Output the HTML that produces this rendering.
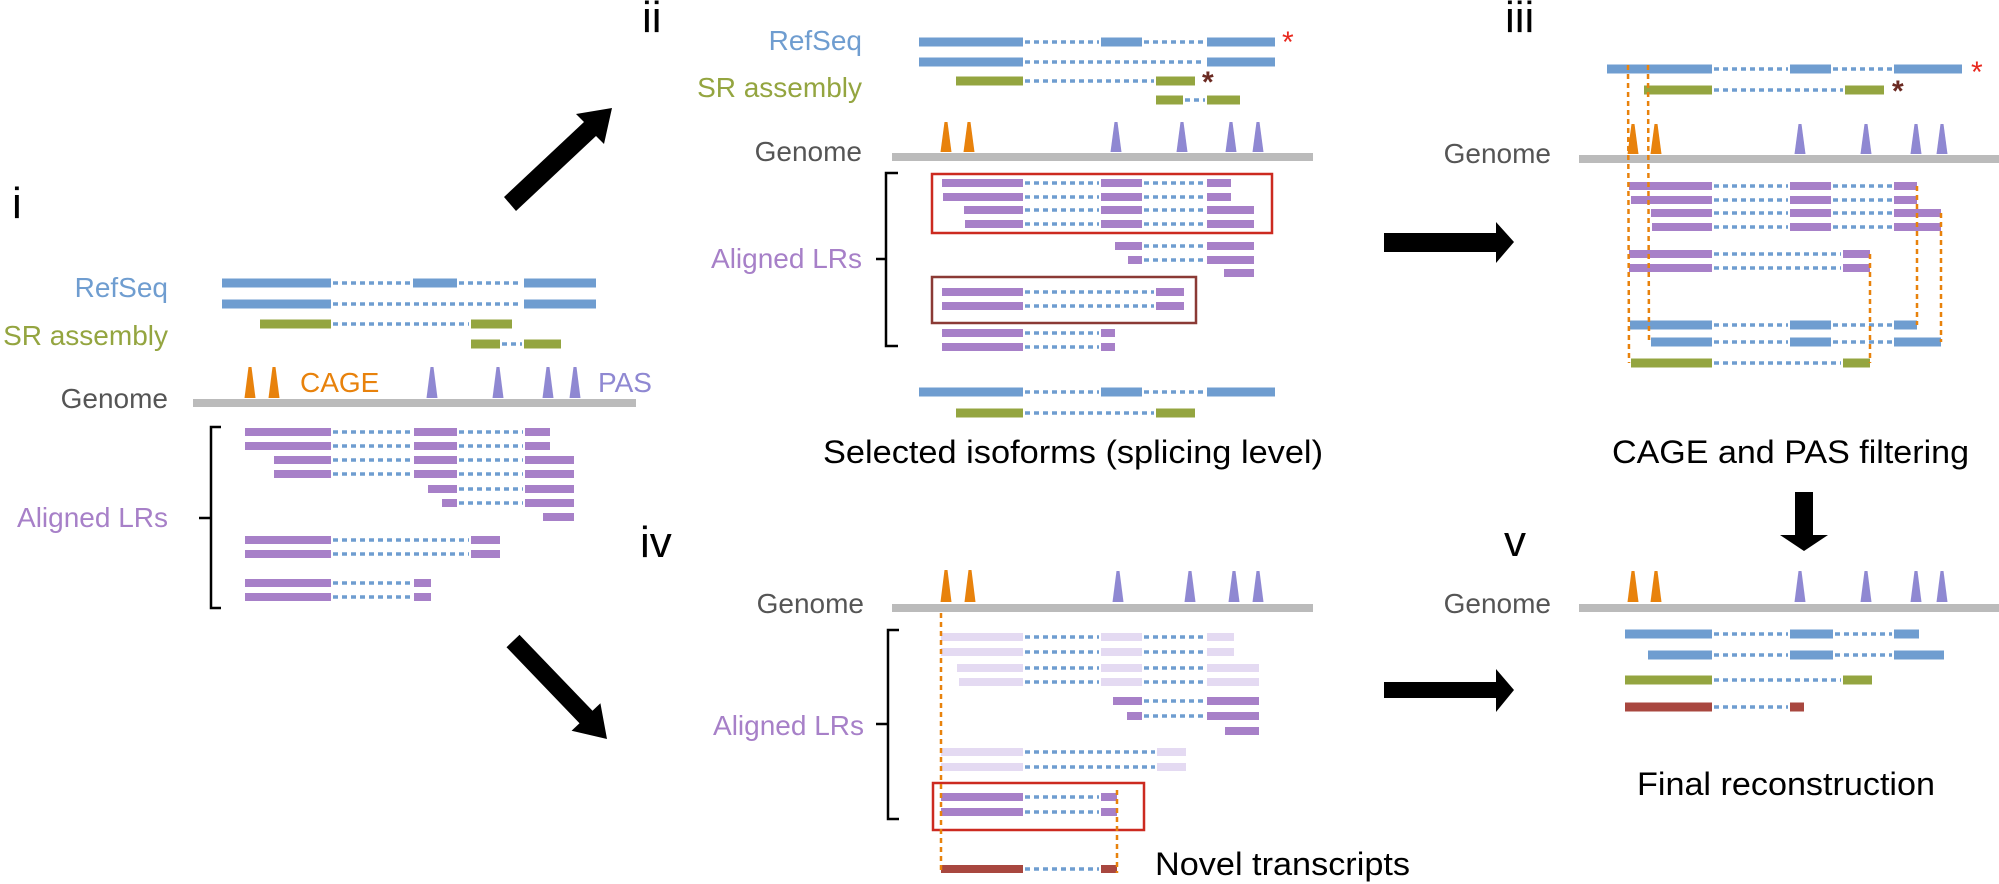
<!DOCTYPE html>
<html><head><meta charset="utf-8"><style>
html,body{margin:0;padding:0;background:#fff;}
svg{display:block;}
text{font-family:"Liberation Sans",Arial,sans-serif;}
.b{fill:#6f9dd0}.g{fill:#94a540}.p{fill:#a780c8}.l{fill:#e4daf2}.r{fill:#a8473f}
.d{stroke:#6f9dd0;stroke-width:3.5;stroke-dasharray:5 4;fill:none}
.o{stroke:#e8820c;stroke-width:2.5;stroke-dasharray:5 4;fill:none}
.ca{fill:#e8820c}.pa{fill:#8f88d2}
.gn{fill:#bbbbbb}
.lab{font-size:28px}
</style></head><body>
<svg width="1999" height="884" viewBox="0 0 1999 884" xmlns="http://www.w3.org/2000/svg">
<!-- Panel labels -->
<text x="12" y="218" font-size="44">i</text>
<text x="642" y="32" font-size="44">ii</text>
<text x="1505" y="32" font-size="44">iii</text>
<text x="640" y="557" font-size="44">iv</text>
<text x="1504" y="556" font-size="44">v</text>

<!-- ===== Panel i ===== -->
<text class="lab" x="168" y="297" text-anchor="end" fill="#6f9dd0">RefSeq</text>
<text class="lab" x="168" y="345" text-anchor="end" fill="#94a540">SR assembly</text>
<text class="lab" x="168" y="408" text-anchor="end" fill="#555">Genome</text>
<text class="lab" x="168" y="527" text-anchor="end" fill="#a780c8">Aligned LRs</text>
<text class="lab" x="300" y="392" fill="#e8820c">CAGE</text>
<text class="lab" x="598" y="392" fill="#8f88d2">PAS</text>
<g>
<rect class="b" x="222" y="278.5" width="109" height="9"/><line class="d" x1="333" x2="411" y1="283" y2="283"/><rect class="b" x="413" y="278.5" width="44" height="9"/><line class="d" x1="459" x2="522" y1="283" y2="283"/><rect class="b" x="524" y="278.5" width="72" height="9"/>
<rect class="b" x="222" y="299.5" width="109" height="9"/><line class="d" x1="333" x2="522" y1="304" y2="304"/><rect class="b" x="524" y="299.5" width="72" height="9"/>
<rect class="g" x="260" y="319.5" width="71" height="9"/><line class="d" x1="333" x2="469" y1="324" y2="324"/><rect class="g" x="471" y="319.5" width="41" height="9"/>
<rect class="g" x="471" y="339.5" width="29" height="9"/><line class="d" x1="502" x2="522" y1="344" y2="344"/><rect class="g" x="524" y="339.5" width="37" height="9"/>
<polygon class="ca" points="244.5,398 248.5,367 251.5,367 255.5,398"/>
<polygon class="ca" points="268.5,398 272.5,367 275.5,367 279.5,398"/>
<polygon class="pa" points="426.5,398 430.5,367 433.5,367 437.5,398"/>
<polygon class="pa" points="492.5,398 496.5,367 499.5,367 503.5,398"/>
<polygon class="pa" points="542.5,398 546.5,367 549.5,367 553.5,398"/>
<polygon class="pa" points="569.5,398 573.5,367 576.5,367 580.5,398"/>
<rect class="gn" x="193" y="399" width="443" height="8"/>
<path d="M221 427 H211 V608 H221 M211 518 H199" stroke="#000" stroke-width="2.5" fill="none"/>
<rect class="p" x="245" y="428" width="86" height="8"/><line class="d" x1="333" x2="412" y1="432" y2="432"/><rect class="p" x="414" y="428" width="43" height="8"/><line class="d" x1="459" x2="523" y1="432" y2="432"/><rect class="p" x="525" y="428" width="25" height="8"/>
<rect class="p" x="245" y="442" width="86" height="8"/><line class="d" x1="333" x2="412" y1="446" y2="446"/><rect class="p" x="414" y="442" width="43" height="8"/><line class="d" x1="459" x2="523" y1="446" y2="446"/><rect class="p" x="525" y="442" width="25" height="8"/>
<rect class="p" x="274" y="456" width="57" height="8"/><line class="d" x1="333" x2="412" y1="460" y2="460"/><rect class="p" x="414" y="456" width="43" height="8"/><line class="d" x1="459" x2="523" y1="460" y2="460"/><rect class="p" x="525" y="456" width="49" height="8"/>
<rect class="p" x="274" y="470" width="57" height="8"/><line class="d" x1="333" x2="412" y1="474" y2="474"/><rect class="p" x="414" y="470" width="43" height="8"/><line class="d" x1="459" x2="523" y1="474" y2="474"/><rect class="p" x="525" y="470" width="49" height="8"/>
<rect class="p" x="428" y="485" width="29" height="8"/><line class="d" x1="459" x2="523" y1="489" y2="489"/><rect class="p" x="525" y="485" width="49" height="8"/>
<rect class="p" x="442" y="499" width="15" height="8"/><line class="d" x1="459" x2="523" y1="503" y2="503"/><rect class="p" x="525" y="499" width="49" height="8"/>
<rect class="p" x="543" y="513" width="31" height="8"/>
<rect class="p" x="245" y="536" width="86" height="8"/><line class="d" x1="333" x2="469" y1="540" y2="540"/><rect class="p" x="471" y="536" width="29" height="8"/>
<rect class="p" x="245" y="550" width="86" height="8"/><line class="d" x1="333" x2="469" y1="554" y2="554"/><rect class="p" x="471" y="550" width="29" height="8"/>
<rect class="p" x="245" y="579" width="86" height="8"/><line class="d" x1="333" x2="412" y1="583" y2="583"/><rect class="p" x="414" y="579" width="17" height="8"/>
<rect class="p" x="245" y="593" width="86" height="8"/><line class="d" x1="333" x2="412" y1="597" y2="597"/><rect class="p" x="414" y="593" width="17" height="8"/>
</g>

<!-- arrows -->
<polygon fill="#000" points="504,197 584,122 576,114 612,108 604,144 596,136 516,211"/>
<polygon fill="#000" points="519.5,634.8 592.5,710.8 600.4,703.2 607,739 571.6,730.8 579.5,723.2 506.5,647.2"/>
<polygon fill="#000" points="1384,233 1496,233 1496,222 1514,242 1496,263 1496,252 1384,252"/>
<polygon fill="#000" points="1384,682 1496,682 1496,669 1514,690 1496,712 1496,698 1384,698"/>
<polygon fill="#000" points="1795,492 1813,492 1813,535 1828,535 1804,551 1780,535 1795,535"/>

<!-- ===== Panel ii ===== -->
<text class="lab" x="862" y="50" text-anchor="end" fill="#6f9dd0">RefSeq</text>
<text class="lab" x="862" y="97" text-anchor="end" fill="#94a540">SR assembly</text>
<text class="lab" x="862" y="161" text-anchor="end" fill="#555">Genome</text>
<text class="lab" x="862" y="268" text-anchor="end" fill="#a780c8">Aligned LRs</text>
<text x="1282" y="52" font-size="30" fill="#e8281e">*</text>
<text x="1202" y="92" font-size="30" fill="#6b2a22" font-weight="bold">*</text>
<rect class="b" x="919" y="37.5" width="104" height="9"/><line class="d" x1="1025" x2="1099" y1="42" y2="42"/><rect class="b" x="1101" y="37.5" width="41" height="9"/><line class="d" x1="1144" x2="1205" y1="42" y2="42"/><rect class="b" x="1207" y="37.5" width="68" height="9"/>
<rect class="b" x="919" y="57.5" width="104" height="9"/><line class="d" x1="1025" x2="1205" y1="62" y2="62"/><rect class="b" x="1207" y="57.5" width="68" height="9"/>
<rect class="g" x="956" y="76.5" width="67" height="9"/><line class="d" x1="1025" x2="1154" y1="81" y2="81"/><rect class="g" x="1156" y="76.5" width="39" height="9"/>
<rect class="g" x="1156" y="95.5" width="27" height="9"/><line class="d" x1="1185" x2="1205" y1="100" y2="100"/><rect class="g" x="1207" y="95.5" width="33" height="9"/>
<polygon class="ca" points="940.5,152 944.5,122 947.5,122 951.5,152"/>
<polygon class="ca" points="963.5,152 967.5,122 970.5,122 974.5,152"/>
<polygon class="pa" points="1110.5,152 1114.5,122 1117.5,122 1121.5,152"/>
<polygon class="pa" points="1176.5,152 1180.5,122 1183.5,122 1187.5,152"/>
<polygon class="pa" points="1225.5,152 1229.5,122 1232.5,122 1236.5,152"/>
<polygon class="pa" points="1252.5,152 1256.5,122 1259.5,122 1263.5,152"/>
<rect class="gn" x="892" y="153" width="421" height="8"/>
<path d="M898 173 H886 V346 H898 M886 259 H876" stroke="#000" stroke-width="2.5" fill="none"/>
<rect x="932" y="174" width="340" height="59" fill="none" stroke="#cc2a20" stroke-width="2.5"/>
<rect x="932" y="277" width="264" height="46" fill="none" stroke="#8b3a35" stroke-width="2.5"/>
<rect class="p" x="942" y="179" width="81" height="8"/><line class="d" x1="1025" x2="1099" y1="183" y2="183"/><rect class="p" x="1101" y="179" width="41" height="8"/><line class="d" x1="1144" x2="1205" y1="183" y2="183"/><rect class="p" x="1207" y="179" width="24" height="8"/>
<rect class="p" x="943" y="193" width="80" height="8"/><line class="d" x1="1025" x2="1099" y1="197" y2="197"/><rect class="p" x="1101" y="193" width="41" height="8"/><line class="d" x1="1144" x2="1205" y1="197" y2="197"/><rect class="p" x="1207" y="193" width="24" height="8"/>
<rect class="p" x="964" y="206" width="59" height="8"/><line class="d" x1="1025" x2="1099" y1="210" y2="210"/><rect class="p" x="1101" y="206" width="41" height="8"/><line class="d" x1="1144" x2="1205" y1="210" y2="210"/><rect class="p" x="1207" y="206" width="47" height="8"/>
<rect class="p" x="965" y="220" width="58" height="8"/><line class="d" x1="1025" x2="1099" y1="224" y2="224"/><rect class="p" x="1101" y="220" width="41" height="8"/><line class="d" x1="1144" x2="1205" y1="224" y2="224"/><rect class="p" x="1207" y="220" width="47" height="8"/>
<rect class="p" x="1115" y="242" width="27" height="8"/><line class="d" x1="1144" x2="1205" y1="246" y2="246"/><rect class="p" x="1207" y="242" width="47" height="8"/>
<rect class="p" x="1128" y="256" width="14" height="8"/><line class="d" x1="1144" x2="1205" y1="260" y2="260"/><rect class="p" x="1207" y="256" width="47" height="8"/>
<rect class="p" x="1224" y="269" width="30" height="8"/>
<rect class="p" x="942" y="288" width="81" height="8"/><line class="d" x1="1025" x2="1154" y1="292" y2="292"/><rect class="p" x="1156" y="288" width="28" height="8"/>
<rect class="p" x="942" y="302" width="81" height="8"/><line class="d" x1="1025" x2="1154" y1="306" y2="306"/><rect class="p" x="1156" y="302" width="28" height="8"/>
<rect class="p" x="942" y="329" width="81" height="8"/><line class="d" x1="1025" x2="1099" y1="333" y2="333"/><rect class="p" x="1101" y="329" width="14" height="8"/>
<rect class="p" x="942" y="343" width="81" height="8"/><line class="d" x1="1025" x2="1099" y1="347" y2="347"/><rect class="p" x="1101" y="343" width="14" height="8"/>
<rect class="b" x="919" y="387.5" width="104" height="9"/><line class="d" x1="1025" x2="1099" y1="392" y2="392"/><rect class="b" x="1101" y="387.5" width="41" height="9"/><line class="d" x1="1144" x2="1205" y1="392" y2="392"/><rect class="b" x="1207" y="387.5" width="68" height="9"/>
<rect class="g" x="956" y="408.5" width="67" height="9"/><line class="d" x1="1025" x2="1154" y1="413" y2="413"/><rect class="g" x="1156" y="408.5" width="39" height="9"/>
<text x="823" y="463" font-size="32" textLength="500" lengthAdjust="spacingAndGlyphs">Selected isoforms (splicing level)</text>

<!-- ===== Panel iii ===== -->
<text class="lab" x="1551" y="163" text-anchor="end" fill="#555">Genome</text>
<text x="1971" y="82" font-size="30" fill="#e8281e">*</text>
<text x="1892" y="101" font-size="30" fill="#6b2a22" font-weight="bold">*</text>
<rect class="b" x="1607" y="64.5" width="105" height="9"/><line class="d" x1="1714" x2="1788" y1="69" y2="69"/><rect class="b" x="1790" y="64.5" width="41" height="9"/><line class="d" x1="1833" x2="1892" y1="69" y2="69"/><rect class="b" x="1894" y="64.5" width="68" height="9"/>
<rect class="g" x="1644" y="85.5" width="68" height="9"/><line class="d" x1="1714" x2="1843" y1="90" y2="90"/><rect class="g" x="1845" y="85.5" width="39" height="9"/>
<polygon class="ca" points="1627.5,154 1631.5,124 1634.5,124 1638.5,154"/>
<polygon class="ca" points="1650.5,154 1654.5,124 1657.5,124 1661.5,154"/>
<polygon class="pa" points="1794.5,154 1798.5,124 1801.5,124 1805.5,154"/>
<polygon class="pa" points="1860.5,154 1864.5,124 1867.5,124 1871.5,154"/>
<polygon class="pa" points="1910.5,154 1914.5,124 1917.5,124 1921.5,154"/>
<polygon class="pa" points="1936.5,154 1940.5,124 1943.5,124 1947.5,154"/>
<rect class="gn" x="1579" y="155" width="420" height="8"/>
<rect class="p" x="1629" y="182" width="83" height="8"/><line class="d" x1="1714" x2="1788" y1="186" y2="186"/><rect class="p" x="1790" y="182" width="41" height="8"/><line class="d" x1="1833" x2="1892" y1="186" y2="186"/><rect class="p" x="1894" y="182" width="23" height="8"/>
<rect class="p" x="1631" y="196" width="81" height="8"/><line class="d" x1="1714" x2="1788" y1="200" y2="200"/><rect class="p" x="1790" y="196" width="41" height="8"/><line class="d" x1="1833" x2="1892" y1="200" y2="200"/><rect class="p" x="1894" y="196" width="23" height="8"/>
<rect class="p" x="1651" y="209" width="61" height="8"/><line class="d" x1="1714" x2="1788" y1="213" y2="213"/><rect class="p" x="1790" y="209" width="41" height="8"/><line class="d" x1="1833" x2="1892" y1="213" y2="213"/><rect class="p" x="1894" y="209" width="47" height="8"/>
<rect class="p" x="1652" y="223" width="60" height="8"/><line class="d" x1="1714" x2="1788" y1="227" y2="227"/><rect class="p" x="1790" y="223" width="41" height="8"/><line class="d" x1="1833" x2="1892" y1="227" y2="227"/><rect class="p" x="1894" y="223" width="47" height="8"/>
<rect class="p" x="1629" y="250" width="83" height="8"/><line class="d" x1="1714" x2="1841" y1="254" y2="254"/><rect class="p" x="1843" y="250" width="27" height="8"/>
<rect class="p" x="1629" y="264" width="83" height="8"/><line class="d" x1="1714" x2="1841" y1="268" y2="268"/><rect class="p" x="1843" y="264" width="27" height="8"/>
<rect class="b" x="1630" y="320.5" width="82" height="9"/><line class="d" x1="1714" x2="1788" y1="325" y2="325"/><rect class="b" x="1790" y="320.5" width="41" height="9"/><line class="d" x1="1833" x2="1892" y1="325" y2="325"/><rect class="b" x="1894" y="320.5" width="23" height="9"/>
<rect class="b" x="1651" y="337.5" width="61" height="9"/><line class="d" x1="1714" x2="1788" y1="342" y2="342"/><rect class="b" x="1790" y="337.5" width="41" height="9"/><line class="d" x1="1833" x2="1892" y1="342" y2="342"/><rect class="b" x="1894" y="337.5" width="47" height="9"/>
<rect class="g" x="1631" y="358.5" width="81" height="9"/><line class="d" x1="1714" x2="1841" y1="363" y2="363"/><rect class="g" x="1843" y="358.5" width="27" height="9"/>
<line class="o" x1="1628" x2="1629" y1="65" y2="363"/>
<line class="o" x1="1648" x2="1649" y1="65" y2="342"/>
<line class="o" x1="1870" x2="1870" y1="254" y2="363"/>
<line class="o" x1="1917" x2="1917" y1="186" y2="325"/>
<line class="o" x1="1941" x2="1941" y1="213" y2="342"/>
<text x="1612" y="463" font-size="32" textLength="357" lengthAdjust="spacingAndGlyphs">CAGE and PAS filtering</text>

<!-- ===== Panel iv ===== -->
<text class="lab" x="864" y="613" text-anchor="end" fill="#555">Genome</text>
<text class="lab" x="864" y="735" text-anchor="end" fill="#a780c8">Aligned LRs</text>
<polygon class="ca" points="940.5,602 944.5,570 947.5,570 951.5,602"/>
<polygon class="ca" points="964.5,602 968.5,570 971.5,570 975.5,602"/>
<polygon class="pa" points="1112.5,602 1116.5,571 1119.5,571 1123.5,602"/>
<polygon class="pa" points="1184.5,602 1188.5,571 1191.5,571 1195.5,602"/>
<polygon class="pa" points="1228.5,602 1232.5,571 1235.5,571 1239.5,602"/>
<polygon class="pa" points="1252.5,602 1256.5,571 1259.5,571 1263.5,602"/>
<rect class="gn" x="892" y="604" width="421" height="8"/>
<path d="M899 630 H888 V819 H899 M888 724 H876" stroke="#000" stroke-width="2.5" fill="none"/>
<rect class="l" x="941" y="633" width="82" height="8"/><line class="d" x1="1025" x2="1099" y1="637" y2="637"/><rect class="l" x="1101" y="633" width="41" height="8"/><line class="d" x1="1144" x2="1205" y1="637" y2="637"/><rect class="l" x="1207" y="633" width="27" height="8"/>
<rect class="l" x="941" y="648" width="82" height="8"/><line class="d" x1="1025" x2="1099" y1="652" y2="652"/><rect class="l" x="1101" y="648" width="41" height="8"/><line class="d" x1="1144" x2="1205" y1="652" y2="652"/><rect class="l" x="1207" y="648" width="27" height="8"/>
<rect class="l" x="957" y="664" width="66" height="8"/><line class="d" x1="1025" x2="1099" y1="668" y2="668"/><rect class="l" x="1101" y="664" width="41" height="8"/><line class="d" x1="1144" x2="1205" y1="668" y2="668"/><rect class="l" x="1207" y="664" width="52" height="8"/>
<rect class="l" x="959" y="678" width="64" height="8"/><line class="d" x1="1025" x2="1099" y1="682" y2="682"/><rect class="l" x="1101" y="678" width="41" height="8"/><line class="d" x1="1144" x2="1205" y1="682" y2="682"/><rect class="l" x="1207" y="678" width="52" height="8"/>
<rect class="p" x="1113" y="697" width="29" height="8"/><line class="d" x1="1144" x2="1205" y1="701" y2="701"/><rect class="p" x="1207" y="697" width="52" height="8"/>
<rect class="p" x="1127" y="712" width="15" height="8"/><line class="d" x1="1144" x2="1205" y1="716" y2="716"/><rect class="p" x="1207" y="712" width="52" height="8"/>
<rect class="p" x="1225" y="727" width="34" height="8"/>
<rect class="l" x="941" y="748" width="82" height="8"/><line class="d" x1="1025" x2="1155" y1="752" y2="752"/><rect class="l" x="1157" y="748" width="29" height="8"/>
<rect class="l" x="941" y="763" width="82" height="8"/><line class="d" x1="1025" x2="1155" y1="767" y2="767"/><rect class="l" x="1157" y="763" width="29" height="8"/>
<rect x="933" y="783" width="211" height="47" fill="none" stroke="#cc2a20" stroke-width="2.5"/>
<rect class="p" x="941" y="793" width="82" height="8"/><line class="d" x1="1025" x2="1099" y1="797" y2="797"/><rect class="p" x="1101" y="793" width="16" height="8"/>
<rect class="p" x="941" y="808" width="82" height="8"/><line class="d" x1="1025" x2="1099" y1="812" y2="812"/><rect class="p" x="1101" y="808" width="16" height="8"/>
<rect class="r" x="941" y="865" width="82" height="8"/><line class="d" x1="1025" x2="1099" y1="869" y2="869"/><rect class="r" x="1101" y="865" width="16" height="8"/>
<line class="o" x1="941" x2="941" y1="613" y2="873"/>
<line class="o" x1="1117" x2="1117" y1="790" y2="873"/>
<text x="1155" y="875" font-size="32" textLength="255" lengthAdjust="spacingAndGlyphs">Novel transcripts</text>

<!-- ===== Panel v ===== -->
<text class="lab" x="1551" y="613" text-anchor="end" fill="#555">Genome</text>
<polygon class="ca" points="1627.5,602 1631.5,571 1634.5,571 1638.5,602"/>
<polygon class="ca" points="1650.5,602 1654.5,571 1657.5,571 1661.5,602"/>
<polygon class="pa" points="1794.5,602 1798.5,571 1801.5,571 1805.5,602"/>
<polygon class="pa" points="1860.5,602 1864.5,571 1867.5,571 1871.5,602"/>
<polygon class="pa" points="1910.5,602 1914.5,571 1917.5,571 1921.5,602"/>
<polygon class="pa" points="1936.5,602 1940.5,571 1943.5,571 1947.5,602"/>
<rect class="gn" x="1579" y="604" width="420" height="8"/>
<rect class="b" x="1625" y="629.5" width="87" height="9"/><line class="d" x1="1714" x2="1788" y1="634" y2="634"/><rect class="b" x="1790" y="629.5" width="43" height="9"/><line class="d" x1="1835" x2="1892" y1="634" y2="634"/><rect class="b" x="1894" y="629.5" width="25" height="9"/>
<rect class="b" x="1648" y="650.5" width="64" height="9"/><line class="d" x1="1714" x2="1788" y1="655" y2="655"/><rect class="b" x="1790" y="650.5" width="43" height="9"/><line class="d" x1="1835" x2="1892" y1="655" y2="655"/><rect class="b" x="1894" y="650.5" width="50" height="9"/>
<rect class="g" x="1625" y="675.5" width="87" height="9"/><line class="d" x1="1714" x2="1841" y1="680" y2="680"/><rect class="g" x="1843" y="675.5" width="29" height="9"/>
<rect class="r" x="1625" y="702.5" width="87" height="9"/><line class="d" x1="1714" x2="1788" y1="707" y2="707"/><rect class="r" x="1790" y="702.5" width="14" height="9"/>
<text x="1637" y="795" font-size="32" textLength="298" lengthAdjust="spacingAndGlyphs">Final reconstruction</text>
</svg>
</body></html>
